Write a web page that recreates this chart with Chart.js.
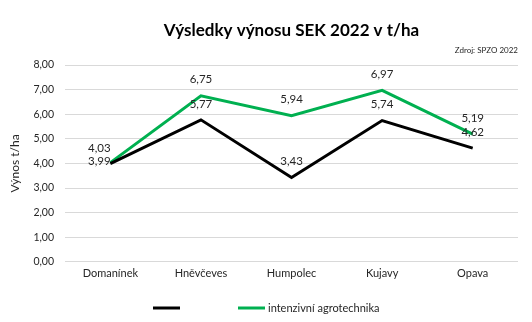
<!DOCTYPE html>
<html>
<head>
<meta charset="utf-8">
<script src="https://cdn.jsdelivr.net/npm/chart.js@4/dist/chart.umd.min.js"></script>
<style>
  html, body { margin: 0; padding: 0; background: #ffffff; }
  #wrap { width: 532px; height: 322px; }
</style>
</head>
<body>
<div id="wrap"><canvas id="c" width="532" height="322"></canvas></div>
<script>
// Yields per site (t/ha)
const categories = ['Domanínek', 'Hněvčeves', 'Humpolec', 'Kujavy', 'Opava'];
const baseYield = [3.99, 5.77, 3.43, 5.74, 4.62];
const intensiveYield = [4.03, 6.75, 5.94, 6.97, 5.19];
const seriesNames = ['', 'intenzivní agrotechnika'];
const yTicks = [0, 1, 2, 3, 4, 5, 6, 7, 8];

const FONT = 'Lato, "Open Sans", sans-serif';
const TEXT = '#262626';
const fmt = v => v.toFixed(2).replace('.', ',');

// Value labels above each point; when both series nearly coincide,
// the pair is moved to the left so the labels do not collide.
const pointLabels = {
  id: 'pointLabels',
  afterDatasetsDraw(chart) {
    const ctx = chart.ctx;
    const sets = chart.data.datasets;
    ctx.save();
    ctx.font = '11.5px ' + FONT;
    ctx.fillStyle = TEXT;
    ctx.textAlign = 'center';
    ctx.textBaseline = 'middle';
    sets.forEach((ds, di) => {
      const meta = chart.getDatasetMeta(di);
      meta.data.forEach((pt, i) => {
        const v = ds.data[i];
        const others = sets.filter((o, oi) => oi !== di).map(o => o.data[i]);
        const close = others.some(o => Math.abs(o - v) < 0.3);
        const lower = others.some(o => o > v && o - v < 0.3);
        let x = pt.x, y = pt.y - 16;
        if (close) {
          x -= 11;
          y = lower ? pt.y - 2 : pt.y - 14;
        }
        ctx.fillText(fmt(v), x, y);
      });
    });
    ctx.restore();
  }
};

// Bottom legend: a short line sample per series followed by its name
const lineLegend = {
  id: 'lineLegend',
  afterDraw(chart) {
    const ctx = chart.ctx;
    const sets = chart.data.datasets;
    const sample = 27, textGap = 3, itemGap = 55;
    ctx.save();
    ctx.font = '11px ' + FONT;
    const widths = sets.map(ds => sample + textGap + ctx.measureText(ds.label).width);
    const total = widths.reduce((a, b) => a + b, 0) + itemGap * (sets.length - 1);
    let x = Math.round(chart.width / 2 - total / 2);
    const y = 308;
    sets.forEach((ds, i) => {
      ctx.strokeStyle = ds.borderColor;
      ctx.lineWidth = 3;
      ctx.beginPath();
      ctx.moveTo(x, y);
      ctx.lineTo(x + sample, y);
      ctx.stroke();
      ctx.fillStyle = TEXT;
      ctx.textAlign = 'left';
      ctx.textBaseline = 'middle';
      ctx.fillText(ds.label, x + sample + textGap, y);
      x += widths[i] + itemGap;
    });
    ctx.restore();
  }
};

new Chart(document.getElementById('c'), {
  type: 'line',
  data: {
    labels: categories,
    datasets: [
      {
        label: seriesNames[0],
        data: baseYield,
        borderColor: '#000000',
        backgroundColor: '#000000',
        borderWidth: 3,
        pointRadius: 0,
        tension: 0
      },
      {
        label: seriesNames[1],
        data: intensiveYield,
        borderColor: '#00b050',
        backgroundColor: '#00b050',
        borderWidth: 3,
        pointRadius: 0,
        tension: 0
      }
    ]
  },
  options: {
    responsive: false,
    animation: false,
    devicePixelRatio: 1,
    layout: { padding: { left: 4, right: 14, top: 14, bottom: 37 } },
    plugins: {
      legend: { display: false },
      tooltip: { enabled: false },
      title: {
        display: true,
        text: 'Výsledky výnosu SEK 2022 v t/ha',
        fullSize: false,
        color: '#000000',
        font: { family: FONT, size: 17, weight: 'bold' },
        padding: { top: 6, bottom: 5 }
      },
      subtitle: {
        display: true,
        text: 'Zdroj: SPZO 2022',
        fullSize: false,
        align: 'end',
        color: TEXT,
        font: { family: FONT, size: 8 },
        padding: { top: 0, bottom: 10 }
      }
    },
    scales: {
      x: {
        offset: true,
        grid: { display: false, drawTicks: false },
        border: { display: false },
        ticks: { color: TEXT, font: { family: FONT, size: 11 }, padding: 5, maxRotation: 0 }
      },
      y: {
        min: 0,
        max: 8,
        afterBuildTicks: s => { s.ticks = yTicks.map(v => ({ value: v })); },
        grid: { color: '#d9d9d9', lineWidth: 1, drawTicks: false },
        border: { display: false },
        ticks: { color: TEXT, font: { family: FONT, size: 10.5 }, padding: 11, callback: v => fmt(v) },
        title: {
          display: true,
          text: 'Výnos t/ha',
          color: TEXT,
          font: { family: FONT, size: 12 },
          padding: { top: 4, bottom: 0 }
        }
      }
    }
  },
  plugins: [pointLabels, lineLegend]
});
</script>
</body>
</html>
